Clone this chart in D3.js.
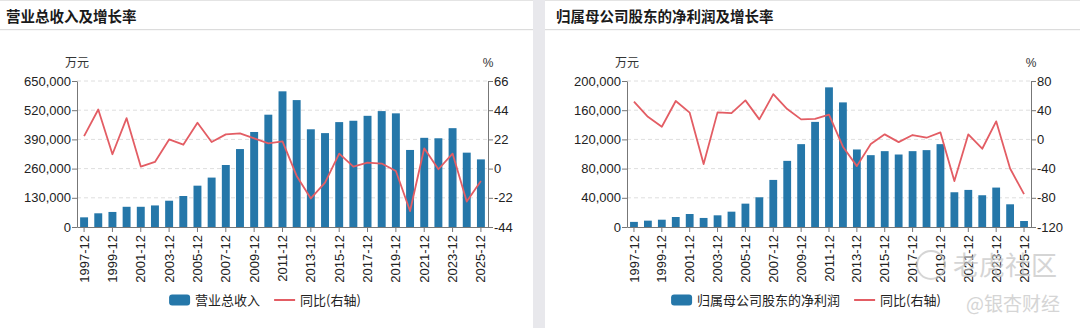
<!DOCTYPE html>
<html><head><meta charset="utf-8">
<script src="https://cdn.jsdelivr.net/npm/d3@7/dist/d3.min.js"></script>
<style>
html,body{margin:0;padding:0;background:#e8e8ec;}
svg{display:block;}
</style></head>
<body><svg id="c" width="1080" height="328"></svg>
<script>
const categories = ["1997-12","1998-12","1999-12","2000-12","2001-12","2002-12","2003-12","2004-12","2005-12","2006-12","2007-12","2008-12","2009-12","2010-12","2011-12","2012-12","2013-12","2014-12","2015-12","2016-12","2017-12","2018-12","2019-12","2020-12","2021-12","2022-12","2023-12","2024-12","2025-12"];
const revenue = [43000,61000,67000,90000,90000,96000,117000,138000,184000,220000,276000,347000,423000,500000,604000,565000,435000,418000,467000,473000,495000,516000,506000,343000,397000,395000,440000,331000,301000];
const revenueYoY = [24.5,44.5,10.8,38,1.5,5,22,18,34.5,20,25.8,26.5,22.8,19,20.5,-5.5,-22.5,-10.5,11.3,1.5,4.5,3.8,-1.8,-32,15.3,-0.5,11.3,-24.8,-9.3];
const profit = [7000,8700,10000,13700,17800,12400,16000,21000,32000,40700,64500,90600,113500,144000,191300,170700,106200,98400,103900,99300,103900,105300,113500,47600,50800,43500,54000,31100,8200];
const profitYoY = [51.7,31,17.4,52.6,36.6,-33.8,37,36,53.5,27.4,62,41.6,27.4,28,34,-10,-36.6,-6.4,6.9,-3.7,6,2.3,9.6,-57,6.9,-12.8,24.7,-39.8,-75];
const revTicks = [0,130000,260000,390000,520000,650000];
const revYoYTicks = [-44,-22,0,22,44,66];
const profitTicks = [0,40000,80000,120000,160000,200000];
const profitYoYTicks = [-120,-80,-40,0,40,80];
const titles = ["营业总收入及增长率","归属母公司股东的净利润及增长率"];
const barNames = ["营业总收入","归属母公司股东的净利润"];
const lineName = "同比(右轴)";
const leftUnit = "万元", rightUnit = "%";

const BAR = "#2577a9", LINE = "#e35d64";
const FONT = "'Liberation Sans', Arial, 'Noto Sans CJK SC', sans-serif";
const CJK = "'Noto Sans CJK SC', sans-serif";
const svg = d3.select("#c");

function panel(o){
  const g = svg.append("g").attr("transform",`translate(${o.x0},0)`);
  g.append("rect").attr("x",0).attr("y",0).attr("width",o.w).attr("height",328).attr("fill","#fff");
  g.append("rect").attr("x",0).attr("y",0).attr("width",o.w).attr("height",1).attr("fill","#e4e4e4");
  g.append("rect").attr("x",0).attr("y",29).attr("width",o.w).attr("height",1.2).attr("fill","#dcdcdc");
  g.append("text").attr("x",o.tx).attr("y",22).attr("font-family",CJK).attr("font-weight","bold")
    .attr("font-size","14.5px").attr("fill","#1a1a1a").text(o.title);

  const x = d3.scaleBand().domain(categories).range([o.l,o.r]).paddingInner(0.44).paddingOuter(0.22);
  const yL = d3.scaleLinear().domain([o.lt[0],o.lt[o.lt.length-1]]).range([227,81]);
  const yR = d3.scaleLinear().domain([o.rt[0],o.rt[o.rt.length-1]]).range([227,81]);

  g.append("g").selectAll("line").data(o.lt.slice(1)).join("line")
    .attr("x1",o.l).attr("x2",o.r).attr("y1",d=>yL(d)).attr("y2",d=>yL(d))
    .attr("stroke","#dedede").attr("stroke-dasharray","4,3");

  g.append("g").selectAll("rect").data(o.bars).join("rect")
    .attr("x",(d,i)=>x(categories[i])).attr("width",x.bandwidth())
    .attr("y",d=>yL(d)).attr("height",d=>227-yL(d)).attr("fill",BAR);

  const line = d3.line().x((d,i)=>x(categories[i])+x.bandwidth()/2).y(d=>yR(d));
  g.append("path").datum(o.yoy).attr("d",line).attr("fill","none").attr("stroke",LINE).attr("stroke-width",1.8).attr("stroke-linejoin","round");

  const axL = d3.axisLeft(yL).tickValues(o.lt).tickFormat(d3.format(",")).tickSize(5).tickSizeOuter(0);
  const gl = g.append("g").attr("transform",`translate(${o.l},0)`).call(axL);
  const axR = d3.axisRight(yR).tickValues(o.rt).tickFormat(d=>d).tickSize(5).tickSizeOuter(0);
  const gr = g.append("g").attr("transform",`translate(${o.r},0)`).call(axR);
  const ticksX = categories.filter((d,i)=>i%2===0);
  const axB = d3.axisBottom(x).tickValues(ticksX).tickSize(5).tickSizeOuter(0);
  const gb = g.append("g").attr("transform",`translate(0,227)`).call(axB);
  gb.selectAll("text").attr("transform","rotate(-90)").attr("text-anchor","end")
    .attr("x",-8).attr("y",0).attr("dy","0.35em");
  [gl,gr,gb].forEach(a=>{
    a.selectAll("path.domain").attr("stroke","#777");
    a.selectAll(".tick line").attr("stroke","#777");
    a.selectAll("text").attr("font-family",FONT).attr("font-size","13px").attr("fill","#222");
  });
  gl.selectAll("text").attr("x",-6);
  gr.selectAll("text").attr("x",6);

  g.append("text").attr("x",o.l).attr("y",67).attr("text-anchor","middle").attr("font-family",CJK)
    .attr("font-size","12px").attr("fill","#333").text(leftUnit);
  g.append("text").attr("x",o.r).attr("y",67).attr("text-anchor","middle").attr("font-family",FONT)
    .attr("font-size","12px").attr("fill","#333").text(rightUnit);

  const lg = g.append("g");
  lg.append("rect").attr("x",0).attr("y",-5.5).attr("width",21).attr("height",11).attr("rx",3).attr("fill",BAR);
  const t1 = lg.append("text").attr("x",26).attr("y",0).attr("dy","0.35em").attr("font-family",CJK)
    .attr("font-size","13px").attr("fill","#222").text(o.barName);
  const w1 = t1.node().getComputedTextLength();
  const lx = 26 + w1 + 14;
  lg.append("line").attr("x1",lx).attr("x2",lx+21).attr("y1",0).attr("y2",0).attr("stroke",LINE).attr("stroke-width",2);
  const t2 = lg.append("text").attr("x",lx+26).attr("y",0).attr("dy","0.35em").attr("font-family",CJK)
    .attr("font-size","13px").attr("fill","#222").text(lineName);
  const total = lx + 26 + t2.node().getComputedTextLength();
  lg.attr("transform",`translate(${(o.lcx - total/2)},300)`);
}

panel({x0:0,w:533,l:77,r:488,tx:6,title:titles[0],bars:revenue,yoy:revenueYoY,lt:revTicks,rt:revYoYTicks,barName:barNames[0],lcx:265});
panel({x0:545,w:535,l:82,r:486,tx:11,title:titles[1],bars:profit,yoy:profitYoY,lt:profitTicks,rt:profitYoYTicks,barName:barNames[1],lcx:261});

const wm = svg.append("g").attr("opacity",0.7);
wm.append("circle").attr("cx",931).attr("cy",265).attr("r",14).attr("fill","none").attr("stroke","#c4c4c4").attr("stroke-width",2);
wm.append("text").attr("x",953).attr("y",275).attr("font-family",CJK).attr("font-size","26px").attr("fill","#c4c4c4").text("老虎社区");
wm.append("text").attr("x",966).attr("y",311).attr("font-family",CJK).attr("font-size","19px").attr("fill","#c4c4c4").text("@银杏财经");
</script></body></html>
